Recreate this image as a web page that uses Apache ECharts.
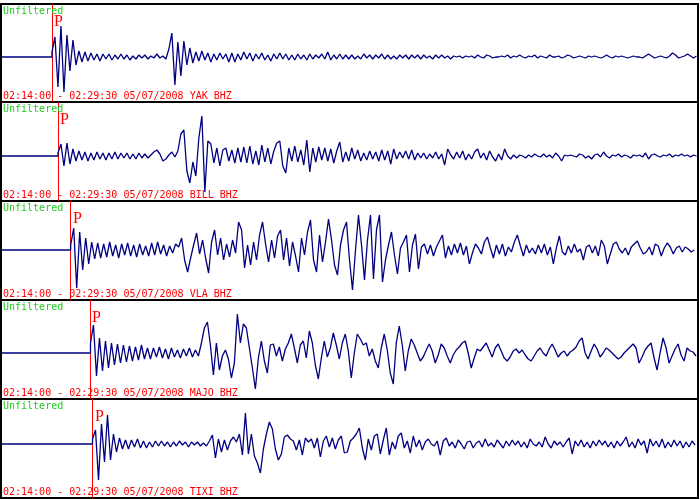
<!DOCTYPE html>
<html><head><meta charset="utf-8">
<script src="https://cdn.jsdelivr.net/npm/echarts@6/dist/echarts.min.js"></script>
<style>html,body{margin:0;padding:0;background:#fff}#c{width:700px;height:500px}</style>
</head><body><div id="c"></div>
<script>
// ---- data ----
const stations = ['YAK', 'BILL', 'VLA', 'MAJO', 'TIXI'];
const timeSpanLabel = '02:14:00 - 02:29:30 05/07/2008';
const channel = 'BHZ';
const filterLabel = 'Unfiltered';
const pickLabel = 'P';
const totalSeconds = 930;      // 02:14:00 -> 02:29:30
const sampleInterval = 4;      // seconds between samples
const pArrival = [68, 76, 93, 119.4, 122.1]; // seconds after 02:14:00

const yak = [
  5,20,-30,31,-35,22,-14,17,-8,6,-5,5,-4,4,-3,3,-4,3,-2,3,
  -3,2,-2,3,-2,2,-3,1,-2,2,-1,2,-2,1,-1,3,-1,1,-2,8,
  24,-28,15,-19,16,-8,9,-6,5,-4,6,-3,4,-5,3,-3,4,-2,3,-5,
  4,-5,3,-3,5,-2,4,-4,3,-2,4,-3,2,-4,3,-2,4,-2,3,-3,
  2,-3,3,-2,2,-3,3,-2,2,-1,3,-2,5,-3,2,-2,3,-2,2,-2,
  2,-2,1,-2,3,-1,2,-2,2,-1,3,-2,2,-2,1,-2,2,-1,2,-2,
  2,-1,2,-2,2,-1,1,-2,2,-1,2,-1,1,-2,1,0,1,-1,1,0,
  1,-1,2,0,-1,2,1,-1,0,0,1,0,2,-1,1,0,2,0,-1,1,
  0,2,-1,1,0,-1,2,0,0,1,-1,0,2,1,-1,0,1,0,-1,1,
  0,1,0,-1,0,2,0,-1,1,0,1,0,-1,0,1,0,0,-1,1,3,
  1,-1,0,1,0,-1,1,4,2,-1,0,1,3,1,-1,1
];
const bill = [
  3,12,-10,13,-8,7,-5,5,-4,4,-5,3,-4,4,-3,3,-4,3,-3,4,
  -3,3,-2,3,-3,2,-3,3,-2,2,-2,1,4,6,2,-5,-3,1,4,-1,
  5,22,26,-15,-27,-6,-20,18,40,-36,15,12,-7,8,-10,6,8,-5,6,-7,
  8,-6,9,-7,10,-8,5,-9,11,-6,8,-8,5,13,15,-10,-17,8,-5,10,
  -6,6,-9,16,-16,8,-6,9,-4,8,-5,7,-7,5,14,-6,4,-5,8,-3,
  6,-5,3,-4,5,-3,4,-5,6,-4,5,-8,7,-3,4,-2,5,-3,6,-4,
  3,-2,3,-3,2,-2,4,-3,2,-9,7,1,-3,4,-2,5,-4,2,-3,4,
  7,-2,3,-4,5,-1,-5,2,-4,7,0,-3,1,-2,1,0,-2,1,-1,2,
  0,-1,2,-1,1,-2,3,0,-5,1,0,1,0,-1,2,1,-2,0,-3,1,
  2,-1,4,0,-2,1,0,2,-1,1,0,-2,1,0,1,-1,3,-3,1,2,
  0,-1,1,0,2,-1,1,0,2,0,1,-1,1,0
];
const vla = [
  5,22,-38,18,-20,12,-14,8,-9,7,-8,6,-7,8,-6,5,-8,6,-5,7,
  -6,5,-7,6,-5,4,-6,7,-5,8,-4,5,-6,4,-3,6,3,12,-10,-22,
  -8,5,17,-4,10,-8,-23,8,20,-5,12,-10,6,-7,10,-3,28,20,-18,5,
  -15,8,-10,15,28,6,-12,10,-8,14,20,-10,12,-16,8,-6,-22,12,-5,18,
  30,-10,-22,15,-12,8,31,10,-15,-25,5,20,28,-10,-40,0,35,5,-30,10,
  35,-29,20,35,-32,-10,5,18,-5,-24,2,8,15,-22,5,16,-19,3,6,-4,
  5,-6,3,9,15,-8,4,-5,6,-3,7,-5,4,-14,-3,6,2,-4,8,13,
  2,-8,5,-4,6,-6,3,-2,8,15,4,-6,5,-3,2,-4,5,-3,6,-5,
  3,-14,2,14,-2,-5,4,-3,6,-2,1,-10,3,5,-3,4,-6,10,4,-14,
  -4,6,8,1,-3,2,-5,3,6,9,2,-4,-2,3,-5,6,4,-6,2,7,
  3,-4,2,4,-2,3,1,-2,0
];
const majo = [
  10,28,-23,15,-18,12,-15,10,-12,9,-10,8,-9,7,-8,6,-7,8,-6,5,
  -6,5,-4,6,-5,4,-6,5,-4,3,-5,4,-3,5,-4,3,-3,10,25,31,
  8,-22,10,-17,-3,3,-6,-25,-10,39,10,29,25,5,-15,-36,-5,12,-8,-20,
  8,9,-3,6,-8,4,10,19,5,-10,8,12,-5,22,10,-12,-26,-5,12,-4,
  5,20,8,-6,10,19,2,-25,0,19,14,8,10,-3,4,-8,-15,5,19,3,
  -20,-31,10,27,8,-18,2,14,8,0,-8,-4,3,9,2,-10,-2,9,5,-3,
  -10,-2,3,6,10,12,0,-15,-5,4,2,6,10,3,-4,5,9,2,-5,-8,
  -4,2,4,0,3,-2,-6,-8,-3,2,5,0,-3,4,9,3,-4,0,2,-3,
  1,3,6,12,15,0,-6,2,9,4,-4,0,5,3,0,-3,-6,-4,0,3,
  6,9,5,-10,-4,3,7,10,-5,-17,0,15,5,-10,-3,4,9,-2,-8,5,
  2,1,-3
];
const tixi = [
  5,14,-36,20,-18,29,-16,10,-8,6,-5,4,-5,4,-3,5,-4,3,-4,2,
  -3,3,-2,3,-2,2,-3,2,-2,3,-1,2,-3,2,-1,2,-2,1,-2,3,
  9,-14,5,-8,4,-6,3,7,2,10,-11,31,-10,10,-12,-19,-29,-5,10,22,
  15,-5,-16,-10,7,9,5,3,-6,4,-11,6,2,5,-4,6,-13,3,8,-3,
  6,-5,4,8,-9,-8,3,6,10,16,-4,-16,5,-6,8,10,-10,4,16,-11,
  2,-5,8,11,-4,3,-9,8,-3,4,-6,2,5,0,-2,3,-11,3,6,-2,
  2,-4,4,0,-5,2,3,-4,1,3,-3,5,-2,1,-3,4,0,-4,3,-2,
  4,-1,3,-3,2,-4,5,0,-2,2,-3,7,0,-4,3,-1,2,-3,2,6,
  -10,3,-2,4,-3,2,-4,3,-2,4,-1,3,-3,2,-4,3,-2,2,7,-3,
  2,-4,5,-1,3,-9,5,-2,3,-3,5,-4,2,-3,4,-2,3,-4,2,-3,
  3,-1
];
const traces = [yak, bill, vla, majo, tixi];

// ---- layout ----
const panelTops = [4, 102, 201, 300, 399];
const panelHeights = [98, 99, 99, 99, 99];
const ampMax = [53, 54, 49, 53, 45];
const ampMin = [-45, -45, -50, -46, -54];
const traceColor = '#000080';
const pickColor = '#ff0000';
const filterColor = '#22cc22';

const chart = echarts.init(document.getElementById('c'), null, {renderer: 'canvas'});
const grids = [], xAxes = [], yAxes = [], series = [];
traces.forEach((tr, i) => {
  grids.push({left: 1, width: 697, top: panelTops[i], height: panelHeights[i],
    show: true, borderColor: '#000', borderWidth: 2, backgroundColor: '#fff'});
  xAxes.push({type: 'value', gridIndex: i, min: 0, max: totalSeconds, show: false});
  yAxes.push({type: 'value', gridIndex: i, min: ampMin[i], max: ampMax[i], show: false});
  const p = pArrival[i];
  const data = [[0, 0], [p, 0]].concat(tr.map((v, k) => [p + k * sampleInterval, v]));
  series.push({
    type: 'line', xAxisIndex: i, yAxisIndex: i, data: data, symbol: 'none',
    lineStyle: {color: traceColor, width: 1.3}, silent: true, animation: false, z: 3,
    markLine: {silent: true, symbol: 'none', animation: false, label: {show: false}, z: 2,
      lineStyle: {color: pickColor, width: 1, type: 'solid'}, data: [{xAxis: p}]}
  });
});
chart.setOption({animation: false, grid: grids, xAxis: xAxes, yAxis: yAxes, series: series});

const graphics = [];
traces.forEach((tr, i) => {
  const top = panelTops[i], bottom = panelTops[i] + panelHeights[i];
  graphics.push({type: 'text', left: 3, top: top + 2, z: 10,
    style: {text: filterLabel, fill: filterColor, font: '10px "DejaVu Sans Mono"'}});
  graphics.push({type: 'text', left: 3, top: bottom - 11, z: 10,
    style: {text: timeSpanLabel + ' ' + stations[i] + ' ' + channel, fill: pickColor, font: '10px "DejaVu Sans Mono"'}});
  const px = chart.convertToPixel({gridIndex: i}, [pArrival[i], 0]);
  graphics.push({type: 'text', left: Math.round(px[0]) + 2, top: top + 10, z: 10,
    style: {text: pickLabel, fill: pickColor, font: '16px "Liberation Serif"'}});
});
chart.setOption({graphic: graphics});
</script>
</body></html>
